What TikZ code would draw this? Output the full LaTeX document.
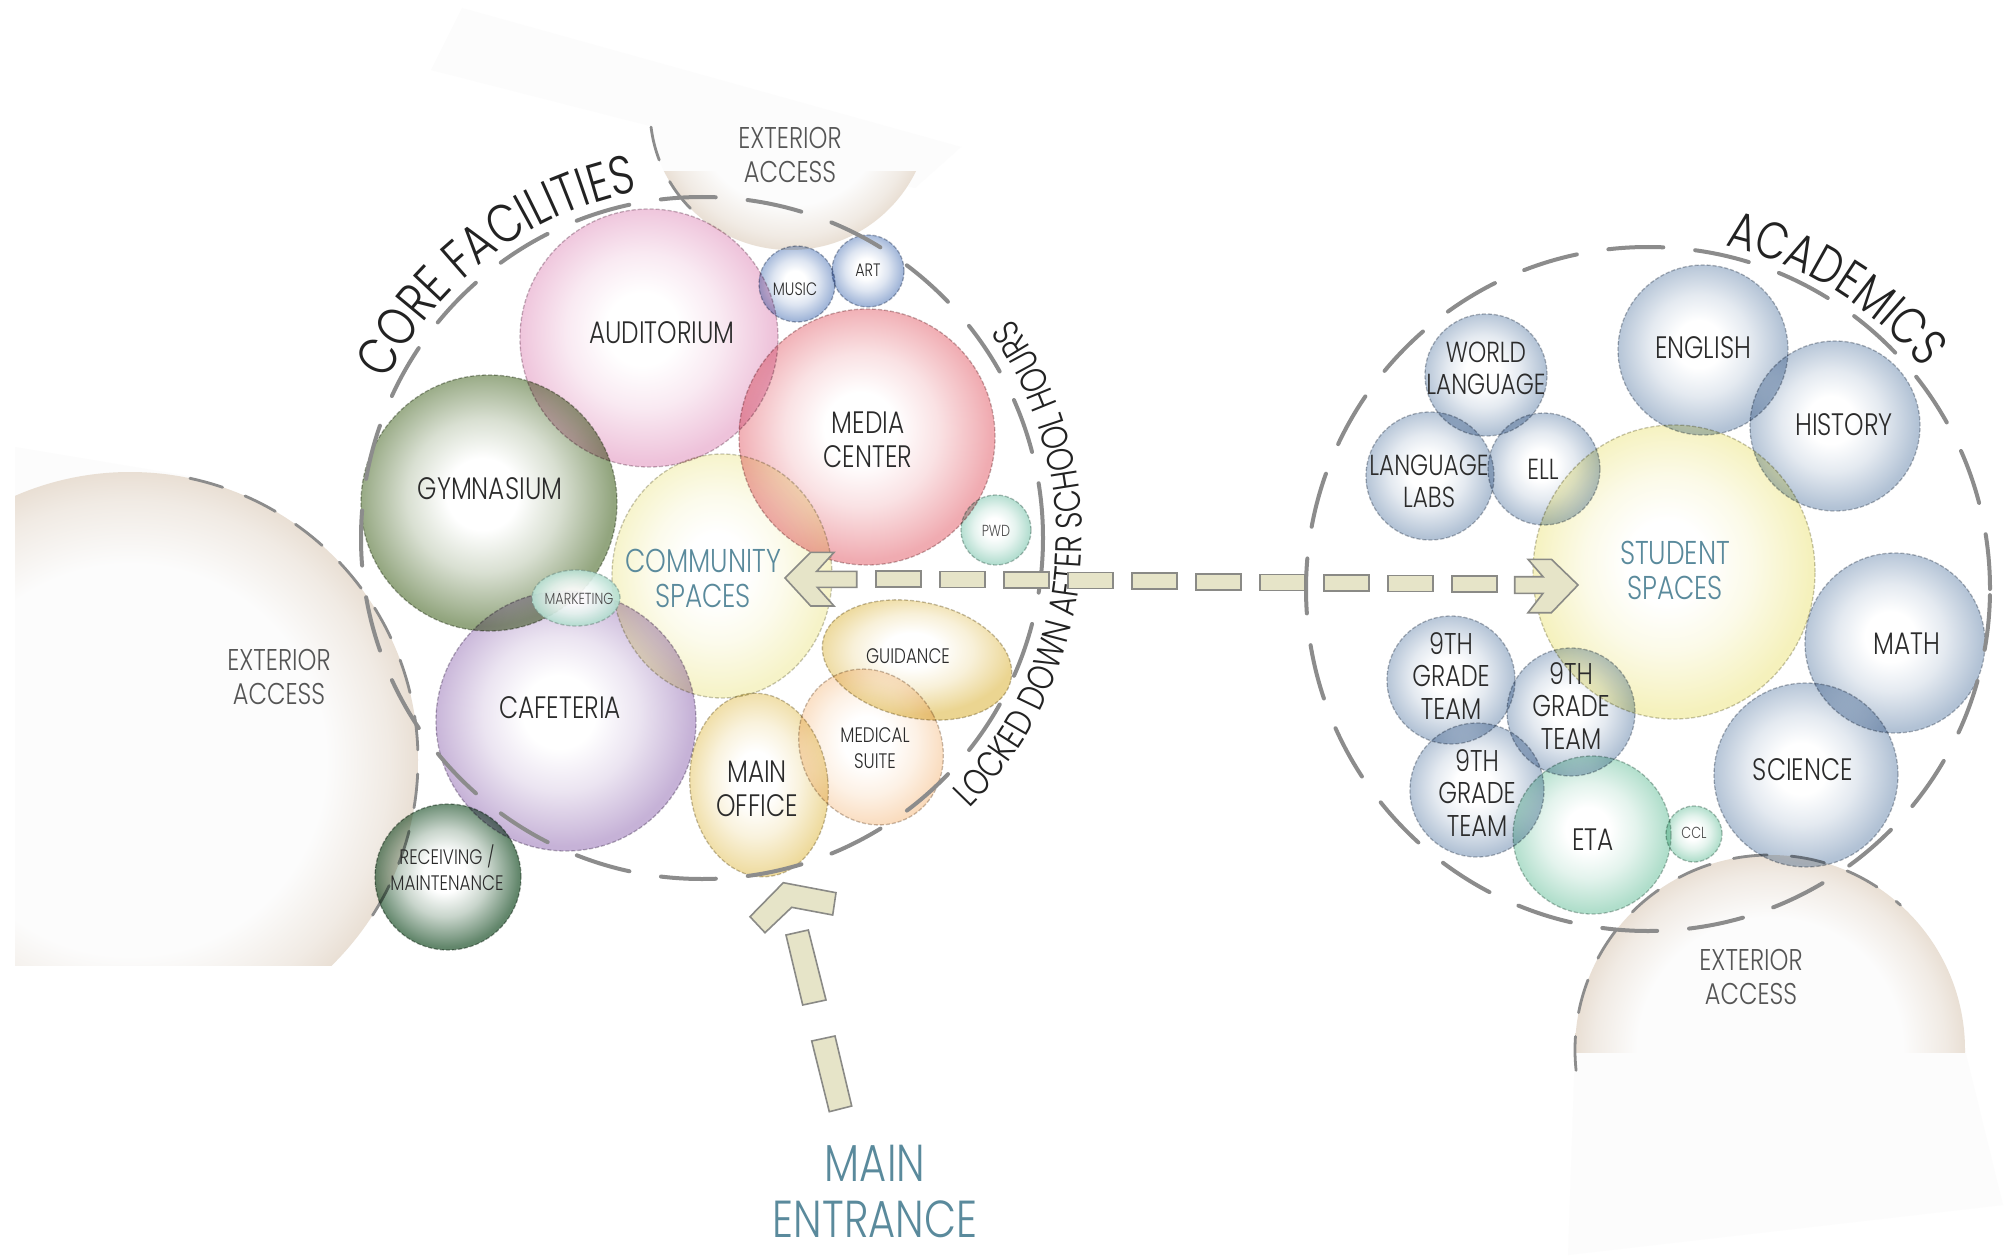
\documentclass[tikz,border=0pt]{standalone}
\usepackage{fontspec}
\setmainfont{Poppins Light}[FakeStretch=0.8]
\usetikzlibrary{shapes.geometric,decorations.text,calc}
\newcommand\fsz[2]{\fontsize{#1}{#2}\selectfont}
\definecolor{gymc}{HTML}{92A57E}
\definecolor{audc}{HTML}{EEC2DA}
\definecolor{medc}{HTML}{F0ABB1}
\definecolor{cafc}{HTML}{C6B2D7}
\definecolor{recc}{HTML}{62866B}
\definecolor{comc}{HTML}{F6F3C8}
\definecolor{mint}{HTML}{B2DDCF}
\definecolor{blu}{HTML}{A0B5D8}
\definecolor{gldc}{HTML}{EBD591}
\definecolor{medsc}{HTML}{F9D7B5}
\definecolor{offc}{HTML}{EEDA9C}
\definecolor{acb}{HTML}{B2C2D5}
\definecolor{stuc}{HTML}{F5F1BC}
\definecolor{etac}{HTML}{B0DECB}
\definecolor{extf}{HTML}{FCFCFC}
\definecolor{extb}{HTML}{E9DFD4}
\definecolor{txt}{HTML}{2B2B2B}
\definecolor{bluetxt}{HTML}{5A8A9C}
\definecolor{grytxt}{HTML}{555555}
\definecolor{bndc}{HTML}{8C8C8C}
\definecolor{arrowc}{HTML}{E6E4C8}
\definecolor{arrowl}{HTML}{8A8A86}
\colorlet{roomc}{blu}
\pgfdeclareradialshading[roomc]{roomshade}{\pgfpoint{-1.5bp}{2bp}}{color(0bp)=(white);color(7bp)=(white);color(15bp)=(roomc!35!white);color(22bp)=(roomc!80!white);color(25bp)=(roomc);color(50bp)=(roomc)}
\pgfdeclareradialshading{extshade}{\pgfpoint{0bp}{0bp}}{color(0bp)=(extf);color(17bp)=(extf);color(22.5bp)=(extb!60!extf);color(25bp)=(extb);color(50bp)=(extb)}
\begin{document}
\begin{tikzpicture}[x=1pt,y=1pt,
  roombase/.style={inner sep=0pt, draw=#1!60!black, draw opacity=0.5, line width=1.3pt,
    dash pattern=on 4pt off 2pt, shade, shading=roomshade, /utils/exec={\colorlet{roomc}{#1}},
    blend mode=multiply},
  room/.style={roombase=#1, circle},
  roomell/.style={roombase=#1, ellipse},
  lbl/.style={align=center, text=txt, font=\fsz{31}{34}, inner sep=0pt},
  lblm/.style={align=center, text=txt, font=\fsz{21}{26}, inner sep=0pt},
  lbls/.style={align=center, text=txt, font=\fsz{18}{22}, inner sep=0pt},
  lblxs/.style={align=center, text=txt!85, font=\fsz{16}{18}, inner sep=0pt},
  lblblue/.style={align=center, text=bluetxt, font=\fsz{33}{35}, inner sep=0pt},
  exlbl/.style={align=center, text=grytxt, font=\fsz{30}{34}, inner sep=0pt},
  bound/.style={draw=bndc, line width=4pt, dash pattern=on 55pt off 32pt, line cap=round},
  extbound/.style={draw=bndc, line width=2.8pt, dash pattern=on 34pt off 24pt, line cap=round},
  arrowpart/.style={fill=arrowc, draw=arrowl, line width=1.6pt, line join=miter},
  dashrect/.style={rectangle, fill=arrowc, draw=arrowl, line width=1.6pt, minimum width=44.7pt, minimum height=16pt, inner sep=0pt},
]
\useasboundingbox (0,0) rectangle (2008,-1260);
\fill[white] (0,0) rectangle (2008,-1260);

% ---------- exterior access regions ----------
\coordinate (xL) at (130,-760);
\coordinate (xT) at (790,-110);
\coordinate (xR) at (1770,-1050);
\fill[extf] (15,-447) -- (200,-478) -- (200,-965) -- (15,-965) -- cycle;
\begin{scope}
  \clip (15,-440) rectangle (440,-965);
  \shade[shading=extshade] (xL) circle (288);
\end{scope}
\fill[extf] (431,-70) -- (462,-8) -- (961,-147) -- (915,-188) -- (654,-127) -- cycle;
\begin{scope}
  \clip (600,-52) -- (961,-147) -- (869,-230) -- (869,-300) -- (600,-300) -- cycle;
  \fill[extf] (xT) circle (140);
  \clip (600,-172) rectangle (960,-300);
  \shade[shading=extshade] (xT) circle (140);
\end{scope}
\fill[extf] (1575,-1050) -- (1965,-1050) -- (2003,-1205) -- (1568,-1255) -- cycle;
\begin{scope}
  \clip (1560,-840) rectangle (2008,-1052);
  \shade[shading=extshade] (xR) circle (195);
\end{scope}
\draw[extbound] ([shift={(78:288)}]xL) arc[start angle=78, end angle=-35, radius=288];
\draw[extbound] ([shift={(187:140)}]xT) arc[start angle=187, end angle=231, radius=140];
\draw[extbound] ([shift={(186:195)}]xR) arc[start angle=186, end angle=48, radius=195];
\node[exlbl] (tL) at (279,-677) {EXTERIOR\\ACCESS};
\node[exlbl] (tT) at (790,-155) {EXTERIOR\\ACCESS};
\node[exlbl] (tR) at (1751,-977) {EXTERIOR\\ACCESS};

% ---------- core facilities rooms ----------
\node[roomell=comc, minimum width=220pt, minimum height=244pt] (comm) at (722,-576) {};
\node[room=gymc, minimum size=256pt] (gym) at (489,-503) {};
\node[room=audc, minimum size=258pt] (aud) at (649,-338) {};
\node[room=medc, minimum size=256pt] (media) at (867,-437) {};
\node[room=blu, minimum size=76pt] (music) at (797,-284) {};
\node[room=blu, minimum size=72pt] (art) at (868,-271) {};
\node[room=mint, minimum size=70pt] (pwd) at (996,-530) {};
\node[room=cafc, minimum size=260pt] (caf) at (566,-721) {};
\node[roomell=mint, minimum width=88pt, minimum height=56pt, blend mode=normal, fill opacity=0.9] (mkt) at (576,-598) {};
\node[room=recc, minimum size=146pt] (rec) at (448,-877) {};
\node[roomell=gldc, minimum width=192pt, minimum height=116pt, rotate=-12] (guid) at (917,-660) {};
\node[roomell=medsc, minimum width=140pt, minimum height=160pt, rotate=28] (medsu) at (871,-747) {};
\node[roomell=offc, minimum width=138pt, minimum height=184pt, rotate=6] (office) at (759,-785) {};

\node[lbl] (l-aud) at (662,-333) {AUDITORIUM};
\node[lbl] (l-gym) at (490,-489) {GYMNASIUM};
\node[lbl] (l-media) at (868,-440) {MEDIA\\CENTER};
\node[lbl] (l-caf) at (560,-708) {CAFETERIA};
\node[lbl] (l-off) at (757,-789) {MAIN\\OFFICE};
\node[lblblue] (l-comm) at (703,-578) {COMMUNITY\\SPACES};
\node[lbls] (l-music) at (795,-289) {MUSIC};
\node[lbls] (l-art) at (868,-270) {ART};
\node[lblxs] (l-pwd) at (996,-531) {PWD};
\node[lblxs] (l-mkt) at (579,-599) {MARKETING};
\node[lblm] (l-guid) at (908,-656) {GUIDANCE};
\node[lblm] (l-medsu) at (875,-748) {MEDICAL\\SUITE};
\node[lblm] (l-rec) at (447,-868) {RECEIVING /\\MAINTENANCE};

% ---------- academics rooms ----------
\node[roomell=stuc, minimum width=282pt, minimum height=294pt] (stu) at (1674,-572) {};
\node[room=acb, minimum size=170pt] (eng) at (1703,-350) {};
\node[room=acb, minimum size=170pt] (hist) at (1835,-426) {};
\node[room=acb, minimum size=122pt] (wl) at (1486,-375) {};
\node[room=acb, minimum size=128pt] (ll) at (1430,-476) {};
\node[room=acb, minimum size=112pt] (ell) at (1544,-469) {};
\node[room=acb, minimum size=180pt] (math) at (1895,-643) {};
\node[room=acb, minimum size=184pt] (sci) at (1806,-775) {};
\node[room=acb, minimum size=128pt] (g1) at (1451,-680) {};
\node[room=acb, minimum size=128pt] (g2) at (1571,-712) {};
\node[room=acb, minimum size=134pt] (g3) at (1477,-790) {};
\node[room=etac, minimum size=158pt] (eta) at (1592,-835) {};
\node[room=etac, minimum size=56pt] (ccl) at (1694,-834) {};

\node[lbl] (l-eng) at (1703,-348) {ENGLISH};
\node[lbl] (l-hist) at (1844,-425) {HISTORY};
\node[lbl, font=\fsz{29}{32}] (l-wl) at (1486,-368) {WORLD\\LANGUAGE};
\node[lbl, font=\fsz{29}{32}] (l-ll) at (1429,-481) {LANGUAGE\\LABS};
\node[lbl, font=\fsz{29}{32}] (l-ell) at (1543,-469) {ELL};
\node[lblblue] (l-stu) at (1675,-570) {STUDENT\\SPACES};
\node[lbl] (l-math) at (1907,-644) {MATH};
\node[lbl] (l-sci) at (1803,-770) {SCIENCE};
\node[lbl, font=\fsz{30}{32.5}] (l-g1) at (1451,-676) {9TH\\GRADE\\TEAM};
\node[lbl, font=\fsz{30}{32.5}] (l-g2) at (1571,-706) {9TH\\GRADE\\TEAM};
\node[lbl, font=\fsz{30}{32.5}] (l-g3) at (1477,-793) {9TH\\GRADE\\TEAM};
\node[lbl] (l-eta) at (1593,-840) {ETA};
\node[lblxs] (l-ccl) at (1694,-833) {CCL};

% ---------- zone boundaries ----------
\coordinate (C1) at (702,-538);
\coordinate (C2) at (1648,-589);
\draw[bound] (C1) circle (341);
\draw[bound] (C2) circle (342);

\path[decorate, decoration={text along path, text align=center,
  text={|\fsz{54}{60}\color{txt!80!black}|CORE FACILITIES}}]
  ([shift={(172:352)}]C1) arc[start angle=172, end angle=82, radius=352];
\path[decorate, decoration={text along path, text align=center,
  text={|\fsz{52}{58}\color{txt!80!black}|ACADEMICS}}]
  ([shift={(103:352)}]C2) arc[start angle=103, end angle=13, radius=352];
\path[decorate, decoration={text along path, text align=center,
  text={|\fsz{37}{42}\color{txt!80!black}|LOCKED DOWN AFTER SCHOOL HOURS}}]
  ([shift={(-65:380)}]C1) arc[start angle=-65, end angle=55, radius=380];

% ---------- circulation arrows ----------
\coordinate (cA) at (785,-578);
\coordinate (cB) at (1578,-585);
\foreach \k [evaluate=\k as \f using (113.4+64*\k)/793] in {0,...,9}
  \node[dashrect] (hd\k) at ($(cA)!\f!(cB)$) {};
\draw[arrowpart] (cA) -- ++(25.7,25.6) -- ++(23.3,0) -- ++(-17.3,-18.9) -- ++(40,0)
  -- ++(0,-16) -- ++(-39.4,0) -- ++(16.7,-18.7) -- ++(-23.3,0) -- cycle;
\draw[arrowpart] (cB) -- ++(-26.6,25.7) -- ++(-23.4,0) -- ++(15,-17.4) -- ++(-28.3,0)
  -- ++(0,-16.6) -- ++(28.3,0) -- ++(-15,-19.4) -- ++(23.4,0) -- cycle;

\node[align=center, text=bluetxt, font=\fsz{52}{56}, inner sep=0pt] (ment) at (875,-1191) {MAIN\\ENTRANCE};
\coordinate (eT) at (783.3,-882.7);
\coordinate (eR1) at (786,-935);
\coordinate (eR2) at (811.7,-1041);
\draw[arrowpart] (eT) -- ++(52.7,-10) -- ++(-3.3,-22.3) -- ++(-41,7.7) -- ++(-26.7,-25.4) -- ++(-15,16) -- cycle;
\draw[arrowpart] (eR1) -- ++(22.3,5) -- ++(17.7,-70) -- ++(-23.3,-5) -- cycle;
\draw[arrowpart] (eR2) -- ++(23.3,5) -- ++(16.7,-70) -- ++(-22.4,-5.7) -- cycle;
\end{tikzpicture}
\end{document}
